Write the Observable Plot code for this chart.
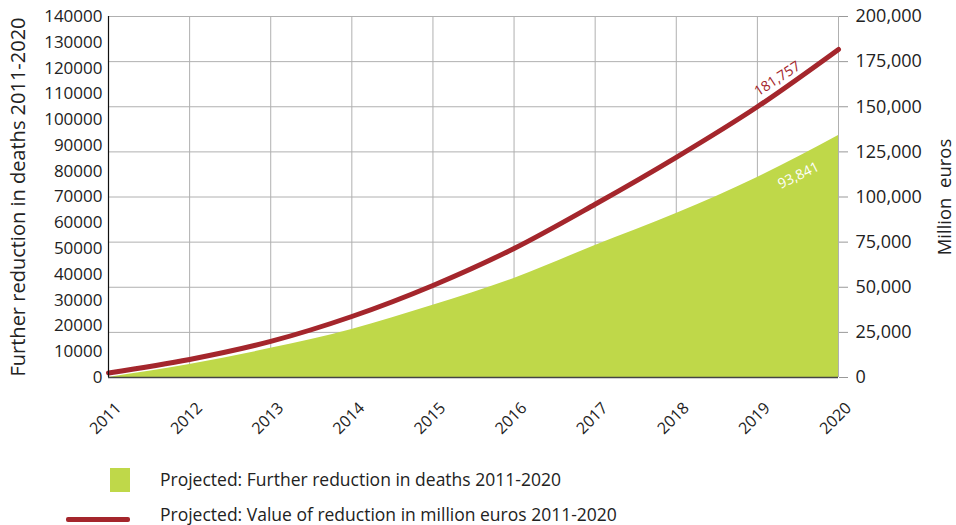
<!DOCTYPE html>
<html>
<head>
<meta charset="utf-8">
<script src="https://cdn.jsdelivr.net/npm/d3@7"></script>
<script src="https://cdn.jsdelivr.net/npm/@observablehq/plot@0.6"></script>
<style>
  html, body { margin: 0; padding: 0; background: #fff; }
  #chart { width: 956px; }
  .legend { font-family: "Open Sans", sans-serif; font-size: 17.5px; color: #222; position: relative; height: 80px; }
  .sw-area { position: absolute; width: 20px; height: 24px; background: #bfd849; }
  .sw-line { position: absolute; width: 64px; height: 5px; background: #a4262c; border-radius: 2px; }
  .legend .txt { position: absolute; white-space: nowrap; }
</style>
</head>
<body>
<div id="chart"></div>
<script>
const years = [2011, 2012, 2013, 2014, 2015, 2016, 2017, 2018, 2019, 2020];
const deaths = [0, 5000, 11300, 18600, 28000, 38400, 51200, 63600, 77600, 93841];
const euros = [2500, 10000, 20000, 33800, 51000, 71500, 96000, 122000, 150000, 181757];
const leftTicks = [0, 10000, 20000, 30000, 40000, 50000, 60000, 70000, 80000, 90000, 100000, 110000, 120000, 130000, 140000];
const rightTicks = [0, 25000, 50000, 75000, 100000, 125000, 150000, 175000, 200000];
const legendLabels = ["Projected: Further reduction in deaths 2011-2020", "Projected: Value of reduction in million euros 2011-2020"];

const k = 200000 / 140000; // left axis (deaths) mapped onto right-axis scale
const rows = years.map((y, i) => ({year: y, deaths: deaths[i], deathsScaled: deaths[i] * k, euros: euros[i]}));
const green = "#bfd849";
const red = "#a4262c";
const font = "Open Sans, sans-serif";

const chart = Plot.plot({
  width: 956,
  height: 445,
  marginTop: 16,
  marginBottom: 68,
  marginLeft: 108,
  marginRight: 118,
  style: {fontFamily: font, color: "#222", background: "#fff"},
  x: {domain: [2011, 2020]},
  y: {domain: [0, 200000]},
  marks: [
    Plot.gridX(years, {stroke: "#b0b0b0", strokeOpacity: 1, strokeWidth: 1}),
    Plot.gridY(rightTicks, {stroke: "#b0b0b0", strokeOpacity: 1, strokeWidth: 1}),
    Plot.areaY(rows, {x: "year", y: "deathsScaled", fill: green, curve: "monotone-x"}),
    Plot.line(rows, {x: "year", y: "euros", stroke: red, strokeWidth: 5, curve: "monotone-x"}),
    Plot.ruleY([0], {stroke: "#444", strokeWidth: 1.5}),
    Plot.ruleX([2011], {stroke: "#111", strokeWidth: 1.2}),
    Plot.axisY(leftTicks.map(d => d * k), {
      anchor: "left", tickSize: 0, tickPadding: 6, fontSize: 17,
      tickFormat: d => String(Math.round(d / k)),
      label: null
    }),
    Plot.text(["Further reduction in deaths 2011-2020"], {
      frameAnchor: "left", dx: -90, rotate: -90, fontSize: 20, fill: "#222", textAnchor: "middle"
    }),
    Plot.axisY(rightTicks, {
      anchor: "right", tickSize: 9, tickPadding: 8, fontSize: 18, stroke: "#999",
      tickFormat: d3.format(","),
      label: null
    }),
    Plot.text(["Million  euros"], {
      frameAnchor: "right", dx: 107, dy: 0, rotate: -90, fontSize: 18.5, fill: "#222", textAnchor: "middle"
    }),
    Plot.axisX(years, {
      anchor: "bottom", tickSize: 0, tickPadding: 14, dx: 10, dy: 14, fontSize: 16, tickRotate: -45,
      tickFormat: d => String(d), label: null
    }),
    Plot.text(rows.filter(d => d.year === 2019), {
      x: "year", y: "euros", text: d => d3.format(",")(181757), dx: 20, dy: -28, rotate: -33,
      fill: red, fontSize: 14
    }),
    Plot.text(rows.filter(d => d.year === 2020), {
      x: "year", y: "deathsScaled", text: d => d3.format(",")(d.deaths), dx: -40, dy: 40, rotate: -26,
      fill: "#fff", fontSize: 14
    })
  ]
});
document.getElementById("chart").appendChild(chart);

const legend = document.createElement("div");
legend.className = "legend";
legend.innerHTML = `
  <div class="sw-area" style="left:110px; top:23px;"></div>
  <div class="txt" style="left:160px; top:22px;">${legendLabels[0]}</div>
  <div class="sw-line" style="left:66px; top:72px;"></div>
  <div class="txt" style="left:160px; top:57px;">${legendLabels[1]}</div>`;
document.body.appendChild(legend);
</script>
</body>
</html>
